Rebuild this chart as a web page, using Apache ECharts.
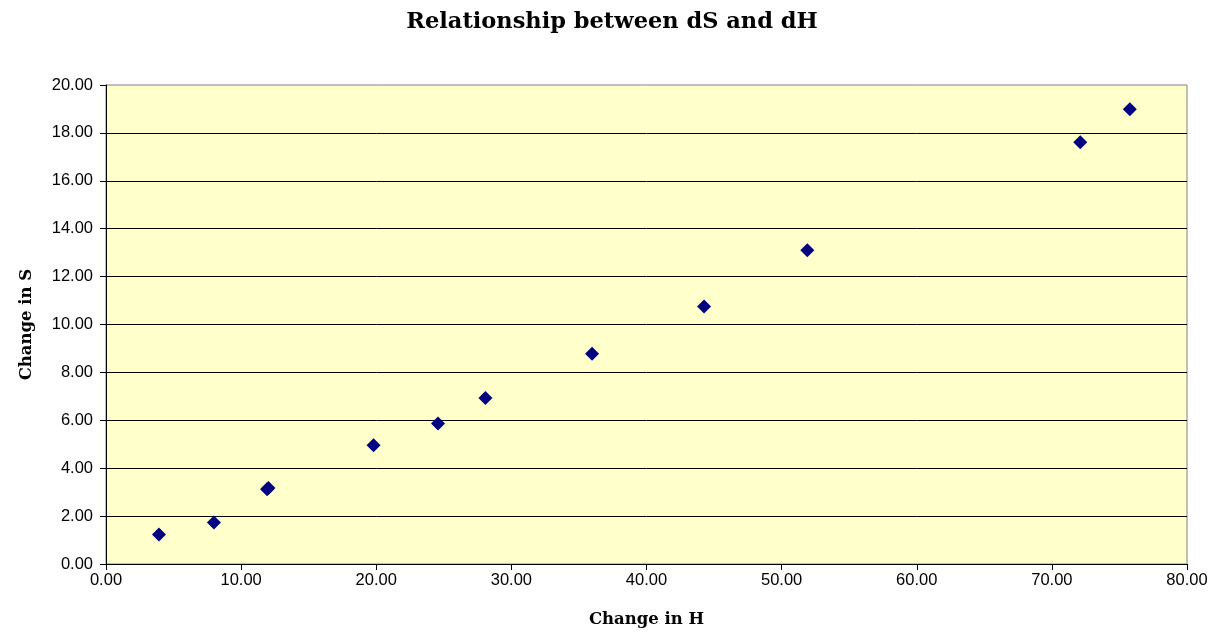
<!DOCTYPE html>
<html>
<head>
<meta charset="utf-8">
<title>Relationship between dS and dH</title>
<script src="https://cdn.jsdelivr.net/npm/echarts@6/dist/echarts.min.js"></script>
<style>
  html, body { margin: 0; padding: 0; background: #ffffff; }
  #chart { width: 1224px; height: 633px; }
</style>
</head>
<body>
<div id="chart"></div>
<script>
// Change in H (x) and change in S (y) for each measurement
const changeH = [3.92, 7.99, 11.92, 12.02, 19.80, 24.57, 28.08, 35.97, 44.26, 51.90, 72.10, 75.77];
const changeS = [1.23, 1.73, 3.12, 3.17, 4.96, 5.87, 6.93, 8.78, 10.75, 13.10, 17.61, 18.99];

const chartTitle = 'Relationship between dS and dH';
const xTitle = 'Change in H';
const yTitle = 'Change in S';

const points = changeH.map((h, i) => [h, changeS[i]]);

const chart = echarts.init(document.getElementById('chart'));
const labelFont = { fontFamily: 'Liberation Sans, Arial, sans-serif', fontSize: 16.5, color: '#000' };
const serifBold = 'DejaVu Serif, serif';

chart.setOption({
  animation: false,
  backgroundColor: '#ffffff',
  title: {
    text: chartTitle,
    left: 'center',
    top: 6,
    textStyle: { fontFamily: serifBold, fontWeight: 'bold', fontSize: 22.5, color: '#000' }
  },
  grid: {
    left: 106, right: 37, top: 85, bottom: 66,
    show: true,
    backgroundColor: '#FFFFCC',
    borderColor: '#808080',
    borderWidth: 1
  },
  xAxis: {
    type: 'value',
    min: 0, max: 80, interval: 10,
    name: xTitle,
    nameLocation: 'middle',
    nameGap: 47,
    nameTextStyle: { fontFamily: serifBold, fontWeight: 'bold', fontSize: 16.5, color: '#000' },
    axisLine: { show: true, onZero: false, lineStyle: { color: '#000', width: 1 } },
    axisTick: { show: true, inside: false, length: 6, lineStyle: { color: '#000' } },
    axisLabel: Object.assign({ margin: 8, formatter: v => v.toFixed(2) }, labelFont),
    splitLine: { show: false }
  },
  yAxis: {
    type: 'value',
    min: 0, max: 20, interval: 2,
    name: yTitle,
    nameLocation: 'middle',
    nameGap: 71,
    nameTextStyle: { fontFamily: serifBold, fontWeight: 'bold', fontSize: 16.5, color: '#000' },
    axisLine: { show: true, onZero: false, lineStyle: { color: '#000', width: 1 } },
    axisTick: { show: true, inside: false, length: 6, lineStyle: { color: '#000' } },
    axisLabel: Object.assign({ margin: 13, formatter: v => v.toFixed(2) }, labelFont),
    splitLine: { show: true, showMinLine: false, showMaxLine: false, lineStyle: { color: '#000', width: 1 } }
  },
  series: [{
    type: 'scatter',
    data: points,
    symbol: 'diamond',
    symbolSize: 14,
    itemStyle: { color: '#000080', opacity: 1 }
  }]
});
</script>
</body>
</html>
